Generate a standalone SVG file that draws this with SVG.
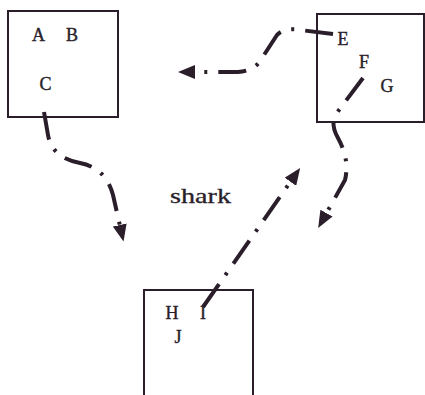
<svg xmlns="http://www.w3.org/2000/svg" width="425" height="395" viewBox="0 0 425 395">
<defs>
<style>
.box{fill:none;stroke:#2a1e2a;stroke-width:2}
.lbl{font-family:"Liberation Serif",serif;font-size:18px;fill:#2a1e2a;stroke:#2a1e2a;stroke-width:0.4;text-anchor:middle}
.con{fill:none;stroke:#2a1e2a;stroke-width:4;stroke-dasharray:28 11 3 11}
</style>
<marker id="ah" markerUnits="userSpaceOnUse" markerWidth="18" markerHeight="14" refX="1" refY="7" orient="auto">
<path d="M0,0 L17,7 L0,14 z" fill="#2a1e2a"/>
</marker>
</defs>
<rect width="425" height="395" fill="#ffffff"/>
<g id="connectors">
<path class="con" d="M44,112 L48,135 Q52,158 80,163 Q106,168 113,195 L120,226" marker-end="url(#ah)"/>
<path class="con" d="M333,34 L300,30 Q285,27 277,35 L262,58 Q255,71 238,72 L194,72" marker-end="url(#ah)"/>
<path class="con" d="M363,78 L336,114 Q330,124 338,138 Q350,160 345,180 L326,214" marker-end="url(#ah)"/>
<path class="con" d="M203,307 L291,181" marker-end="url(#ah)"/>
</g>
<g id="node-abc">
<rect class="box" x="8" y="11" width="110" height="106"/>
<text class="lbl" x="38.5" y="41">A</text>
<text class="lbl" x="72" y="41">B</text>
<text class="lbl" x="45.5" y="90">C</text>
</g>
<g id="node-efg">
<rect class="box" x="317" y="14" width="107" height="108"/>
<text class="lbl" x="343" y="45">E</text>
<text class="lbl" x="364" y="68">F</text>
<text class="lbl" x="387" y="92">G</text>
</g>
<g id="node-hij">
<rect class="box" x="144" y="290" width="109" height="110"/>
<text class="lbl" x="172" y="319">H</text>
<text class="lbl" x="203" y="319">I</text>
<text class="lbl" x="178" y="343">J</text>
</g>
<g id="label-shark">
<text x="170" y="203" font-family="Liberation Serif, serif" font-size="21" fill="#2a1e2a" stroke="#2a1e2a" stroke-width="0.3" textLength="61" lengthAdjust="spacingAndGlyphs">shark</text>
</g>
</svg>
